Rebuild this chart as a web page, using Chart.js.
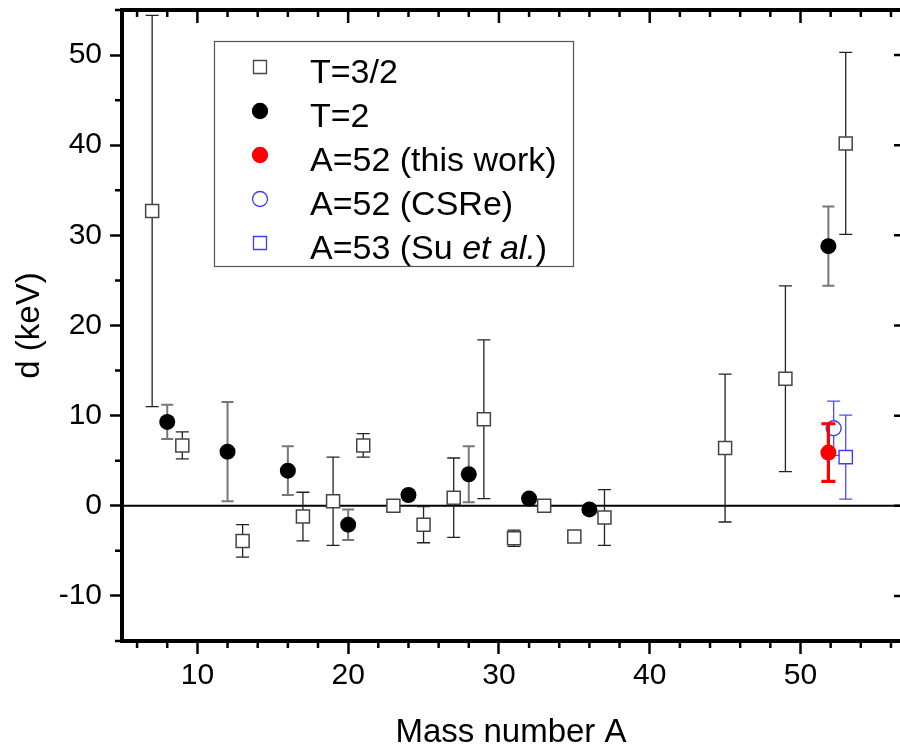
<!DOCTYPE html>
<html>
<head>
<meta charset="utf-8">
<script src="https://cdn.jsdelivr.net/npm/chart.js@4.4.1/dist/chart.umd.min.js"></script>
<style>
  html, body { margin: 0; padding: 0; background: #fff; overflow: hidden; }
</style>
</head>
<body>
<canvas id="chart" width="900" height="746"></canvas>
<script>
// T=3/2 points
const t32A = [7, 9, 13, 17, 19, 21, 23, 25, 27, 29, 31, 33, 35, 37, 45, 49, 53];
const t32D = [32.7, 6.7, -3.9, -1.2, 0.5, 6.7, 0.0, -2.1, 0.9, 9.6, -3.6, 0.0, -3.4, -1.3, 6.4, 14.1, 40.2];
const t32Err = [21.7, 1.5, 1.8, 2.7, 4.9, 1.3, 0.6, 2.0, 4.4, 8.8, 0.9, 0.6, 0.6, 3.1, 8.2, 10.3, 10.1];

// T=2 points
const t2A = [8, 12, 16, 20, 24, 28, 32, 36, 51.85];
const t2D = [9.3, 6.0, 3.9, -2.1, 1.2, 3.5, 0.8, -0.4, 28.8];
const t2Err = [1.9, 5.5, 2.7, 1.7, 0.5, 3.1, 0.5, 0.5, 4.4];

// A=52 (this work)
const thisA = [51.85];
const thisD = [5.9];
const thisErr = [3.2];

// A=52 (CSRe)
const csreA = [52.2];
const csreD = [8.6];
const csreErr = [3.0];

// A=53 (Su et al.)
const suA = [53];
const suD = [5.4];
const suErr = [4.65];

const xTicks = [10, 20, 30, 40, 50];
const yTicks = [-10, 0, 10, 20, 30, 40, 50];

const FONT = "'Liberation Sans', Arial, sans-serif";

function pts(a, d, e) {
  return a.map((v, i) => ({ x: v, y: d[i], err: e[i] }));
}

function noPad(s) {
  s.paddingTop = 0;
  s.paddingBottom = 0;
  s.paddingLeft = 0;
  s.paddingRight = 0;
}

// error bars + zero line, drawn under each dataset's markers
const errorBars = {
  id: "errorBars",
  beforeDatasetsDraw(chart) {
    const { ctx, chartArea, scales } = chart;
    const y0 = scales.y.getPixelForValue(0);
    ctx.save();
    ctx.strokeStyle = "#000";
    ctx.lineWidth = 2;
    ctx.beginPath();
    ctx.moveTo(chartArea.left, y0);
    ctx.lineTo(chartArea.right, y0);
    ctx.stroke();
    ctx.restore();
  },
  beforeDatasetDraw(chart, args) {
    const { ctx, scales } = chart;
    const ds = chart.data.datasets[args.index];
    ctx.save();
    ctx.strokeStyle = ds.errColor;
    ctx.lineWidth = ds.errWidth;
    ds.data.forEach((p) => {
      const px = scales.x.getPixelForValue(p.x);
      const top = scales.y.getPixelForValue(p.y + p.err);
      const bot = scales.y.getPixelForValue(p.y - p.err);
      const c = ds.capHalf;
      ctx.beginPath();
      ctx.moveTo(px, top);
      ctx.lineTo(px, bot);
      ctx.moveTo(px - c, top);
      ctx.lineTo(px + c, top);
      ctx.moveTo(px - c, bot);
      ctx.lineTo(px + c, bot);
      ctx.stroke();
    });
    ctx.restore();
  },
};

// minor ticks, top and right axes, legend box
const frame = {
  id: "frame",
  afterDraw(chart) {
    const { ctx, chartArea: ca, scales } = chart;
    const { x, y } = scales;
    ctx.save();
    ctx.strokeStyle = "#000";
    ctx.lineWidth = 4;
    ctx.beginPath();
    ctx.moveTo(ca.left - 2, ca.top);
    ctx.lineTo(ca.right + 4, ca.top);
    ctx.moveTo(ca.right + 2, ca.top);
    ctx.lineTo(ca.right + 2, ca.bottom);
    ctx.stroke();

    ctx.lineWidth = 2.5;
    ctx.beginPath();
    for (let v = 6; v <= 56; v += 2) {
      const px = x.getPixelForValue(v);
      const major = v % 10 === 0;
      if (!major) {
        ctx.moveTo(px, ca.bottom);
        ctx.lineTo(px, ca.bottom + 7);
      }
      ctx.moveTo(px, ca.top);
      ctx.lineTo(px, ca.top + (major ? 13 : 7));
    }
    for (let v = -15; v <= 55; v += 5) {
      const py = y.getPixelForValue(v);
      if (v % 10 !== 0) {
        ctx.moveTo(ca.left, py);
        ctx.lineTo(ca.left - 7, py);
      } else {
        ctx.moveTo(ca.right + 2, py);
        ctx.lineTo(ca.right - 6, py);
      }
    }
    ctx.stroke();

    // legend
    const bx = 214, by = 41, bw = 359, bh = 225;
    ctx.fillStyle = "#fff";
    ctx.fillRect(bx, by, bw, bh);
    ctx.strokeStyle = "#555";
    ctx.lineWidth = 1.2;
    ctx.strokeRect(bx + 0.5, by + 0.5, bw, bh);

    const order = [0, 1, 2, 3, 4];
    order.forEach((idx, row) => {
      const ds = chart.data.datasets[idx];
      const my = 67 + row * 44;
      const mx = 260;
      ctx.beginPath();
      ctx.lineWidth = 1.3;
      ctx.strokeStyle = ds.borderColor;
      ctx.fillStyle = ds.legendFill;
      if (ds.pointStyle === "rect") {
        ctx.rect(mx - 6.5, my - 6.5, 13, 13);
      } else {
        ctx.arc(mx, my, 7.5, 0, Math.PI * 2);
      }
      ctx.fill();
      ctx.stroke();

      ctx.fillStyle = "#000";
      ctx.textBaseline = "alphabetic";
      ctx.textAlign = "left";
      const ty = my + 16;
      let tx = 310;
      const parts = ds.label.split("et al.");
      ctx.font = "34px " + FONT;
      ctx.fillText(parts[0], tx, ty);
      if (parts.length > 1) {
        tx += ctx.measureText(parts[0]).width;
        ctx.font = "italic 34px " + FONT;
        ctx.fillText("et al.", tx, ty);
        tx += ctx.measureText("et al.").width;
        ctx.font = "34px " + FONT;
        ctx.fillText(parts[1], tx, ty);
      }
    });
    ctx.restore();
  },
};

const ctx = document.getElementById("chart").getContext("2d");
const myChart = new Chart(ctx, {
  type: "scatter",
  data: {
    datasets: [
      {
        label: "T=3/2",
        data: pts(t32A, t32D, t32Err),
        pointStyle: "rect",
        pointRadius: 9.2,
        borderWidth: 1.5,
        borderColor: "#444",
        backgroundColor: "#fff",
        legendFill: "#fff",
        errColor: "#222",
        errWidth: 1.3,
        capHalf: 6.5,
        order: 5,
      },
      {
        label: "T=2",
        data: pts(t2A, t2D, t2Err),
        pointStyle: "circle",
        pointRadius: 8,
        borderWidth: 0,
        borderColor: "#000",
        backgroundColor: "#000",
        legendFill: "#000",
        errColor: "#777",
        errWidth: 2,
        capHalf: 6,
        order: 4,
      },
      {
        label: "A=52 (this work)",
        data: pts(thisA, thisD, thisErr),
        pointStyle: "circle",
        pointRadius: 8,
        borderWidth: 0,
        borderColor: "#ff0000",
        backgroundColor: "#ff0000",
        legendFill: "#ff0000",
        errColor: "#ff0000",
        errWidth: 3.2,
        capHalf: 7,
        order: 1,
      },
      {
        label: "A=52 (CSRe)",
        data: pts(csreA, csreD, csreErr),
        pointStyle: "circle",
        pointRadius: 7.5,
        borderWidth: 1.4,
        borderColor: "#3d3dff",
        backgroundColor: "#fff",
        legendFill: "#fff",
        errColor: "#4d4dff",
        errWidth: 1.3,
        capHalf: 6.5,
        order: 3,
      },
      {
        label: "A=53 (Su et al.)",
        data: pts(suA, suD, suErr),
        pointStyle: "rect",
        pointRadius: 9.4,
        borderWidth: 1.4,
        borderColor: "#3d3dff",
        backgroundColor: "#fff",
        legendFill: "#fff",
        errColor: "#4d4dff",
        errWidth: 1.3,
        capHalf: 6.5,
        order: 2,
      },
    ],
  },
  options: {
    responsive: false,
    animation: false,
    layout: { autoPadding: false, padding: { top: 10, right: 0, left: 0, bottom: 0 } },
    plugins: {
      legend: { display: false },
      tooltip: { enabled: false },
    },
    scales: {
      x: {
        type: "linear",
        position: "bottom",
        min: 5,
        max: 56.6,
        afterBuildTicks: (s) => { s.ticks = xTicks.map((v) => ({ value: v })); },
        afterFit: (s) => { s.height = 105; noPad(s); },
        border: { display: true, width: 4, color: "#000" },
        grid: { drawOnChartArea: false, drawTicks: true, tickLength: 13, tickWidth: 2.5, tickColor: "#000" },
        ticks: { color: "#000", font: { family: FONT, size: 30 }, padding: 4, maxRotation: 0 },
        title: { display: true, text: "Mass number A", color: "#000", font: { family: FONT, size: 33 }, padding: { top: 0, bottom: -7 } },
      },
      y: {
        type: "linear",
        position: "left",
        min: -15,
        max: 55,
        afterBuildTicks: (s) => { s.ticks = yTicks.map((v) => ({ value: v })); },
        afterFit: (s) => { s.width = 122; noPad(s); },
        border: { display: true, width: 4, color: "#000" },
        grid: { drawOnChartArea: false, drawTicks: true, tickLength: 12, tickWidth: 2.5, tickColor: "#000" },
        ticks: { color: "#000", font: { family: FONT, size: 30 }, padding: 8 },
        title: { display: true, text: "d (keV)", color: "#000", font: { family: FONT, size: 33 }, padding: { top: 10, bottom: 0 } },
      },
    },
  },
  plugins: [errorBars, frame],
});
</script>
</body>
</html>
